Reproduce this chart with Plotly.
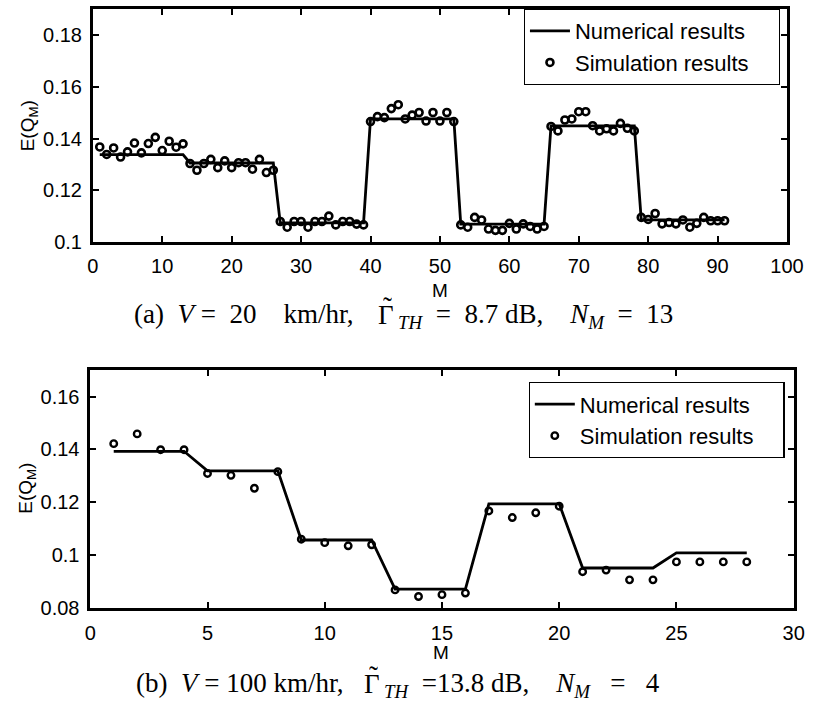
import numpy as np
import plotly.graph_objects as go

# ---------------- (a) V = 20 km/hr, N_M = 13 ----------------
a_group_size = 13
a_levels = [0.1338, 0.1306, 0.1075, 0.1476, 0.1070, 0.1449, 0.1086]
a_sim = [
    0.1368, 0.1339, 0.1364, 0.1329, 0.1349, 0.1383, 0.1345, 0.1381, 0.1405, 0.1354, 0.1390, 0.1367, 0.1380,
    0.1304, 0.1278, 0.1304, 0.1320, 0.1288, 0.1314, 0.1288, 0.1307, 0.1307, 0.1282, 0.1320, 0.1269, 0.1278,
    0.1080, 0.1058, 0.1080, 0.1080, 0.1058, 0.1080, 0.1080, 0.1101, 0.1067, 0.1080, 0.1080, 0.1070, 0.1067,
    0.1466, 0.1485, 0.1481, 0.1516, 0.1531, 0.1476, 0.1491, 0.1501, 0.1468, 0.1501, 0.1468, 0.1501, 0.1466,
    0.1067, 0.1058, 0.1096, 0.1086, 0.1051, 0.1046, 0.1046, 0.1073, 0.1051, 0.1071, 0.1061, 0.1051, 0.1061,
    0.1447, 0.1430, 0.1472, 0.1476, 0.1504, 0.1504, 0.1450, 0.1430, 0.1438, 0.1430, 0.1459, 0.1440, 0.1430,
    0.1096, 0.1088, 0.1111, 0.1071, 0.1076, 0.1071, 0.1086, 0.1058, 0.1073, 0.1096, 0.1083, 0.1083, 0.1083,
]

# ---------------- (b) V = 100 km/hr, N_M = 4 ----------------
b_group_size = 4
b_levels = [0.1393, 0.1319, 0.1057, 0.0871, 0.1194, 0.0951, 0.1008]
b_sim = [
    0.1422, 0.1459, 0.1399, 0.1399,
    0.1309, 0.1302, 0.1253, 0.1316,
    0.1060, 0.1047, 0.1035, 0.1039,
    0.0868, 0.0843, 0.0850, 0.0856,
    0.1167, 0.1142, 0.1160, 0.1185,
    0.0937, 0.0943, 0.0906, 0.0906,
    0.0974, 0.0974, 0.0974, 0.0974,
]

a_m = np.arange(1, len(a_sim) + 1)
b_m = np.arange(1, len(b_sim) + 1)
a_num = np.repeat(a_levels, a_group_size)
b_num = np.repeat(b_levels, b_group_size)

W, H = 823, 719
BLACK = "#000000"
SANS = "Liberation Sans, Arial, sans-serif"
SERIF = "Liberation Serif, Times New Roman, serif"
NB = "\u00a0"

# trailing no-break spaces widen the legend box on the right
NAME_NUM = "Numerical results" + NB * 4
NAME_SIM = "Simulation results" + NB * 4

fig = go.Figure()

fig.add_trace(go.Scatter(x=a_m, y=a_num, mode="lines", name=NAME_NUM,
                         line=dict(color=BLACK, width=2.8), xaxis="x", yaxis="y", legend="legend"))
fig.add_trace(go.Scatter(x=a_m, y=a_sim, mode="markers", name=NAME_SIM,
                         marker=dict(symbol="circle-open", size=7, color=BLACK, line=dict(width=2.6, color=BLACK)),
                         xaxis="x", yaxis="y", legend="legend"))
fig.add_trace(go.Scatter(x=b_m, y=b_num, mode="lines", name=NAME_NUM,
                         line=dict(color=BLACK, width=2.8), xaxis="x2", yaxis="y2", legend="legend2"))
fig.add_trace(go.Scatter(x=b_m, y=b_sim, mode="markers", name=NAME_SIM,
                         marker=dict(symbol="circle-open", size=6.5, color=BLACK, line=dict(width=2.4, color=BLACK)),
                         xaxis="x2", yaxis="y2", legend="legend2"))


def axis_style(**kw):
    base = dict(showline=True, linewidth=2.6, linecolor=BLACK, mirror="ticks",
                ticks="inside", ticklen=6, tickwidth=2, tickcolor=BLACK,
                showgrid=False, zeroline=False,
                tickfont=dict(family=SANS, size=20, color=BLACK))
    base.update(kw)
    return base


def px_x(p):
    return p / W


def px_y(p):
    return 1 - p / H


legend_style = dict(xanchor="right", yanchor="top", bgcolor="white", bordercolor=BLACK,
                    borderwidth=1.2, font=dict(family=SANS, size=22, color=BLACK),
                    tracegroupgap=0, itemwidth=40)

fig.update_layout(
    width=W, height=H,
    margin=dict(l=0, r=0, t=0, b=0),
    paper_bgcolor="white", plot_bgcolor="white",
    xaxis=axis_style(domain=[px_x(89.3), px_x(803.5)], range=[0, 100], tick0=0, dtick=10,
                     anchor="y", ticklabelstandoff=4),
    yaxis=axis_style(domain=[px_y(246), px_y(9.3)], range=[0.1, 0.19], tick0=0.1, dtick=0.02,
                     anchor="x", ticklabelstandoff=4),
    xaxis2=axis_style(domain=[px_x(86.7), px_x(810.3)], range=[0, 30], tick0=0, dtick=5,
                      anchor="y2", ticklabelstandoff=5),
    yaxis2=axis_style(domain=[px_y(617.3), px_y(376)], range=[0.08, 0.17], tick0=0.08, dtick=0.02,
                      anchor="x2", ticklabelstandoff=4),
    legend=dict(x=px_x(796), y=px_y(9), **legend_style),
    legend2=dict(x=px_x(801), y=px_y(388), **legend_style),
    showlegend=True,
)

GAMMA = "\u0393"
TILDE = "\u02dc"

CAP = 27
cap_font = dict(family=SERIF, size=CAP, color=BLACK)

# caption pieces: (text, x, y_top, anchor, extra); the Γ box is trimmed at the top
# so the tilde accent above it gets its own space
captions = [
    ("(a)" + NB * 2 + "<i>V</i>" + NB + "=" + NB * 2 + "20" + NB * 4 + "km/hr,", 130, 302, "left", {}),
    (GAMMA, 391, 308, "center", dict(height=25, valign="bottom")),
    (TILDE, 392, 295, "center", dict(height=10, valign="top")),
    ("<sub><i>TH</i></sub>" + NB * 2 + "=" + NB * 2 + "8.7 dB," + NB * 4 +
     "<i>N</i><sub><i>M</i></sub>" + NB * 2 + "=" + NB * 2 + "13", 401, 302, "left", {}),
    ("(b)" + NB * 2 + "<i>V</i>" + NB + "=" + NB + "100 km/hr,", 132, 676, "left", {}),
    (GAMMA, 377, 682, "center", dict(height=25, valign="bottom")),
    (TILDE, 378, 669, "center", dict(height=10, valign="top")),
    ("<sub><i>TH</i></sub>" + NB * 2 + "=13.8 dB," + NB * 4 +
     "<i>N</i><sub><i>M</i></sub>" + NB * 3 + "=" + NB * 3 + "4", 387, 676, "left", {}),
]

annotations = [
    dict(text="E(Q<sub>M</sub>)", x=px_x(24), y=px_y(128), textangle=-90,
         font=dict(family=SANS, size=19, color=BLACK), xanchor="center", yanchor="middle"),
    dict(text="E(Q<sub>M</sub>)", x=px_x(22), y=px_y(496), textangle=-90,
         font=dict(family=SANS, size=19, color=BLACK), xanchor="center", yanchor="middle"),
    dict(text="M", x=px_x(446), y=px_y(295), font=dict(family=SANS, size=19, color=BLACK),
         xanchor="center", yanchor="middle"),
    dict(text="M", x=px_x(448), y=px_y(663), font=dict(family=SANS, size=19, color=BLACK),
         xanchor="center", yanchor="middle"),
]
for text, x, y, anchor, extra in captions:
    ann = dict(text=text, x=px_x(x), y=px_y(y), font=cap_font, xanchor=anchor, yanchor="top")
    ann.update(extra)
    annotations.append(ann)
for a in annotations:
    a.update(xref="paper", yref="paper", showarrow=False)
fig.update_layout(annotations=annotations)

fig.write_html("out.html")
